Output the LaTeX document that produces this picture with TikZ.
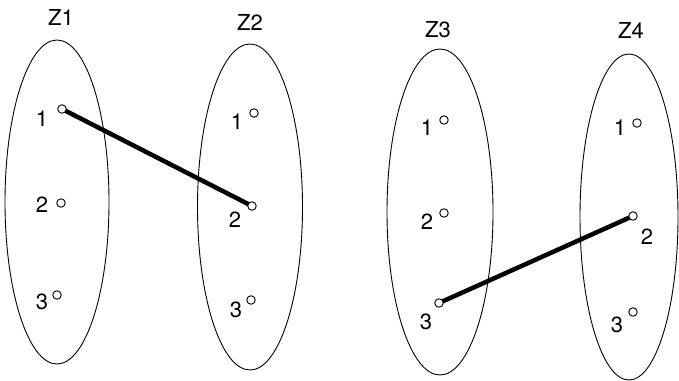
\documentclass[tikz,border=0pt]{standalone}
\usepackage{fontspec}
\setmainfont{TeX Gyre Heros}
\usetikzlibrary{shapes.geometric}
\begin{document}
\begin{tikzpicture}[x=1pt, y=-1pt,
    set/.style={draw, ellipse, line width=0.9pt, inner sep=0pt},
    pt/.style={draw, circle, line width=0.9pt, fill=white, inner sep=0pt, minimum size=8.5pt},
    lbl/.style={font=\fontsize{22}{24}\selectfont, inner sep=0pt},
    link/.style={line width=4.5pt}]
\useasboundingbox (0,0) rectangle (679,380);

% --- Sets Z1..Z4 ---
\foreach \n/\x/\y/\w/\h/\tx/\ty in {1/57/202/104/324/61/17,
                                     2/250/207/105/326/250/22,
                                     3/440/212/106/326/438/30,
                                     4/629/217/98/326/631/30} {
    \node[set, minimum width=\w pt, minimum height=\h pt] (z\n) at (\x,\y) {};
    \node[lbl] (t\n) at (\tx,\ty) {Z\n};
}

% --- Connections ---
\coordinate (c12) at (62,109);
\coordinate (c22) at (252,206);
\coordinate (c33) at (439,303);
\coordinate (c42) at (633,216);
\draw[link] (c12) -- (c22);
\draw[link] (c33) -- (c42);

% --- Points with numbers ---
\foreach \s/\k/\cx/\cy/\lx/\ly in {1/1/62/109/42/119, 1/2/61/203/42/205, 1/3/57/295/42/302,
                                    2/1/254/113/237/122, 2/2/252/206/235/220, 2/3/251/300/236/310,
                                    3/1/444/120/427/128, 3/2/444/213/427/222, 3/3/439/303/426/322,
                                    4/1/637/123/620/128, 4/2/633/216/647/237, 4/3/633/312/617/325} {
    \node[pt] (z\s p\k) at (\cx,\cy) {};
    \node[lbl] (z\s l\k) at (\lx,\ly) {\k};
}

\end{tikzpicture}
\end{document}
